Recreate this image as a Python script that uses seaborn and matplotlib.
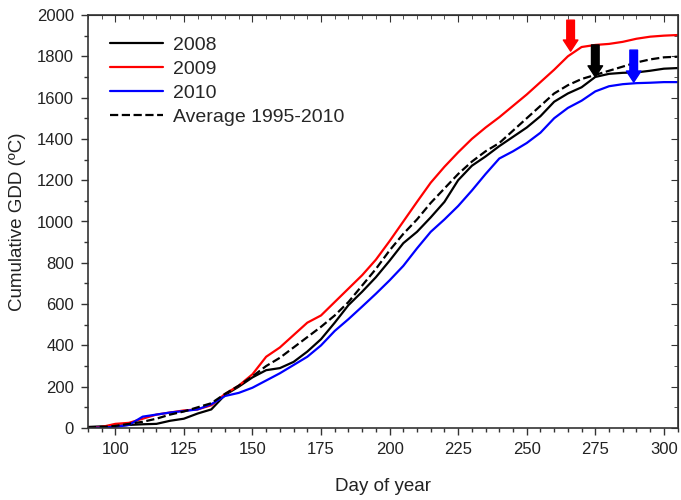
import numpy as np
import pandas as pd
import matplotlib
matplotlib.use("Agg")
import matplotlib.pyplot as plt
from matplotlib.ticker import MultipleLocator
import seaborn as sns

# -------------------
# Data (every 5 days)
days = list(range(90, 310, 5))

gdd_2008 = [5, 8, 10, 15, 18, 20, 35, 45, 70, 90, 160, 200, 245, 280, 290, 320,
            370, 430, 510, 595, 660, 730, 810, 895, 950, 1020, 1095, 1200, 1270,
            1315, 1365, 1410, 1455, 1510, 1580, 1620, 1650, 1700, 1715, 1720,
            1722, 1730, 1740, 1743]
gdd_2009 = [0, 5, 20, 25, 45, 65, 75, 85, 90, 110, 165, 205, 260, 345, 390, 450,
            510, 545, 610, 675, 740, 815, 905, 1000, 1095, 1188, 1265, 1335,
            1400, 1455, 1505, 1560, 1615, 1675, 1735, 1800, 1845, 1855, 1860,
            1870, 1885, 1895, 1900, 1903]
gdd_2010 = [0, 2, 5, 15, 55, 65, 75, 82, 90, 115, 155, 170, 195, 230, 265, 305,
            345, 400, 470, 527, 588, 650, 715, 785, 870, 950, 1010, 1075, 1150,
            1230, 1305, 1340, 1380, 1430, 1500, 1550, 1585, 1630, 1655, 1665,
            1670, 1672, 1675, 1675]
gdd_avg = [3, 5, 10, 20, 30, 45, 65, 80, 100, 120, 165, 205, 250, 300, 340, 390,
           440, 490, 545, 610, 690, 770, 860, 940, 1010, 1090, 1160, 1230, 1290,
           1340, 1380, 1440, 1500, 1560, 1620, 1660, 1690, 1710, 1730, 1750,
           1770, 1785, 1795, 1798]

series_names = ["2008", "2009", "2010", "Average 1995-2010"]
series_colors = ["black", "#ff0000", "#0000ff", "black"]
series_styles = ["-", "-", "-", "--"]

# harvest arrows: day, arrow top, arrow tip
arrow_days = [266, 275, 289]
arrow_tops = [1975, 1855, 1830]
arrow_tips = [1825, 1700, 1675]
arrow_colors = ["#ff0000", "black", "#0000ff"]

df = pd.DataFrame({
    "day": days * 4,
    "gdd": gdd_2008 + gdd_2009 + gdd_2010 + gdd_avg,
    "series": np.repeat(series_names, len(days)),
})

# -------------------
# Plot
sns.set_style("white")
plt.rcParams["font.family"] = ["Liberation Sans", "DejaVu Sans"]

fig = plt.figure(figsize=(6.81, 5.0), dpi=100)
ax = fig.add_axes([0.129, 0.144, 0.866, 0.826])

for name, col, ls in zip(series_names, series_colors, series_styles):
    sub = df[df["series"] == name]
    sns.lineplot(data=sub, x="day", y="gdd", ax=ax, color=col, linestyle=ls,
                 linewidth=1.6, label=name)

for d, top, tip, col in zip(arrow_days, arrow_tops, arrow_tips, arrow_colors):
    ax.annotate("", xy=(d, tip), xytext=(d, top),
                arrowprops=dict(facecolor=col, edgecolor=col, width=5.5,
                                headwidth=10.5, headlength=8, shrink=0))

ax.set_xticks(range(100, 301, 25))
ax.xaxis.set_minor_locator(MultipleLocator(5))
ax.yaxis.set_major_locator(MultipleLocator(200))
ax.yaxis.set_minor_locator(MultipleLocator(100))
ax.set_xlim(90, 305)
ax.set_ylim(0, 2000)

ax.tick_params(which="major", direction="out", length=5, width=1, colors="#333333",
               labelsize=12, labelcolor="#222222", bottom=True, left=True, pad=5)
ax.tick_params(which="minor", direction="out", length=3, width=1, colors="#333333",
               bottom=True, left=True)
for s in ax.spines.values():
    s.set_color("#333333")
    s.set_linewidth(1.2)

secx = ax.secondary_xaxis("top")
secx.set_xticks(range(100, 301, 25))
secx.xaxis.set_minor_locator(MultipleLocator(5))
secx.tick_params(which="major", direction="in", length=5, colors="#333333", labeltop=False)
secx.tick_params(which="minor", direction="in", length=3, colors="#333333")
secy = ax.secondary_yaxis("right")
secy.yaxis.set_major_locator(MultipleLocator(200))
secy.yaxis.set_minor_locator(MultipleLocator(100))
secy.tick_params(which="major", direction="in", length=5, colors="#333333", labelright=False)
secy.tick_params(which="minor", direction="in", length=3, colors="#333333")

ax.set_xlabel("Day of year", fontsize=13.5, color="#222222", labelpad=15)
ax.set_ylabel("Cumulative GDD (ºC)", fontsize=13.5, color="#222222", labelpad=8)

ax.legend(loc="upper left", bbox_to_anchor=(0.008, 0.99), frameon=False,
          fontsize=14, handlelength=2.7, handletextpad=0.55, labelspacing=0.32)

fig.savefig("out.png", dpi=100)
